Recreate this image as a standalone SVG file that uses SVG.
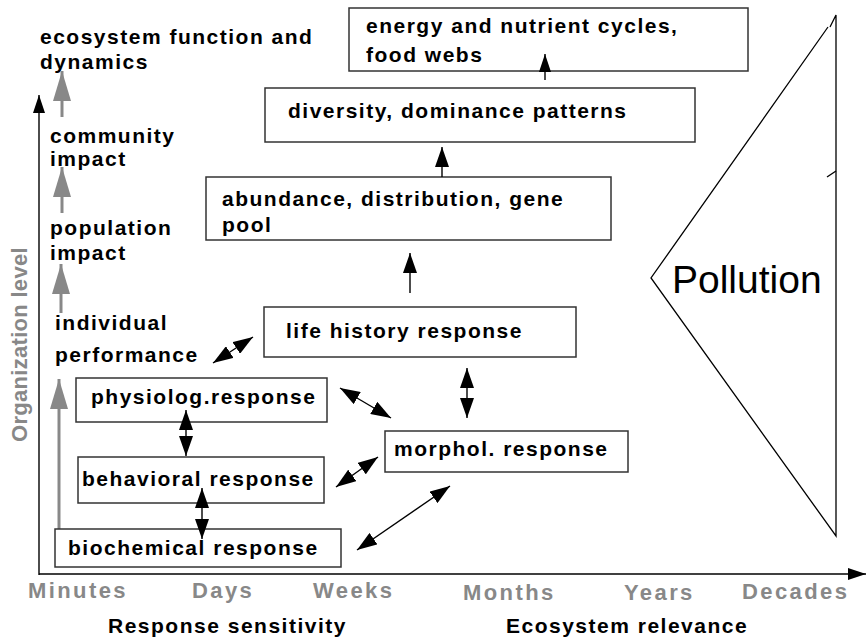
<svg xmlns="http://www.w3.org/2000/svg" width="866" height="638" viewBox="0 0 866 638">
<defs>
<style>
.t{font-family:"Liberation Sans",Arial,sans-serif;font-weight:bold;font-size:21px;letter-spacing:1.5px;fill:#000}
.g{font-family:"Liberation Sans",Arial,sans-serif;font-weight:bold;font-size:22px;letter-spacing:2.4px;fill:#888}
.box{fill:#fff;stroke:#333;stroke-width:1.5}
.ln{stroke:#000;stroke-width:1.4;fill:none}
.gl{stroke:#888;stroke-width:3;fill:none}
</style>
<marker id="ah" viewBox="0 0 20 14" refX="20" refY="7" markerWidth="20" markerHeight="14" markerUnits="userSpaceOnUse" orient="auto-start-reverse">
<path d="M0,0 L20,7 L0,14 Z" fill="#000"/>
</marker>
<marker id="ahs" viewBox="0 0 18 12" refX="18" refY="6" markerWidth="18" markerHeight="12" markerUnits="userSpaceOnUse" orient="auto-start-reverse">
<path d="M0,0 L18,6 L0,12 Z" fill="#000"/>
</marker>
<marker id="gh" viewBox="0 0 30 18" refX="30" refY="9" markerWidth="30" markerHeight="18" markerUnits="userSpaceOnUse" orient="auto">
<path d="M0,0 L30,9 L0,18 Z" fill="#888"/>
</marker>
</defs>
<rect width="866" height="638" fill="#fff"/>

<g id="axes">
<line class="ln" x1="39" y1="575" x2="39" y2="95" marker-end="url(#ahs)"/>
<line class="ln" x1="39" y1="574" x2="866" y2="574" marker-end="url(#ahs)"/>
<text class="g" transform="translate(27,442) rotate(-90)" style="letter-spacing:0.3px">Organization level</text>
<text class="g" x="28" y="598">Minutes</text>
<text class="g" x="192" y="598">Days</text>
<text class="g" x="313" y="598">Weeks</text>
<text class="g" x="463" y="600">Months</text>
<text class="g" x="624" y="600">Years</text>
<text class="g" x="742" y="599">Decades</text>
<text class="t" x="108" y="633">Response sensitivity</text>
<text class="t" x="506" y="633">Ecosystem relevance</text>
</g>

<g id="levels">
<text class="t" x="40" y="44">ecosystem function and</text>
<text class="t" x="40" y="69">dynamics</text>
<text class="t" x="50" y="143">community</text>
<text class="t" x="50" y="166">impact</text>
<text class="t" x="50" y="235">population</text>
<text class="t" x="50" y="260">impact</text>
<text class="t" x="55" y="330">individual</text>
<text class="t" x="55" y="362">performance</text>
</g>

<g id="gray-arrows">
<line class="gl" x1="62" y1="117" x2="62" y2="71" marker-end="url(#gh)"/>
<line class="gl" x1="62" y1="213" x2="62" y2="167" marker-end="url(#gh)"/>
<line class="gl" x1="61" y1="313" x2="61" y2="264" marker-end="url(#gh)"/>
<line class="gl" x1="59" y1="529" x2="59" y2="379" marker-end="url(#gh)"/>
</g>

<g id="pollution">
<path d="M828,27 L651,278 L836,536 L836,15 L830,27" fill="none" stroke="#000" stroke-width="1.3"/>
<line x1="827" y1="177" x2="836" y2="171" stroke="#000" stroke-width="1.3"/>
<text x="672" y="293" font-family="'Liberation Sans',Arial,sans-serif" font-size="39">Pollution</text>
</g>

<g id="n-energy">
<rect class="box" x="349" y="8" width="399" height="63"/>
<text class="t" x="366" y="33">energy and nutrient cycles,</text>
<text class="t" x="366" y="62">food webs</text>
</g>
<g id="n-diversity">
<rect class="box" x="265" y="88" width="430" height="54"/>
<text class="t" x="288" y="118">diversity, dominance patterns</text>
</g>
<g id="n-abundance">
<rect class="box" x="206" y="177" width="405" height="63"/>
<text class="t" x="222" y="206">abundance, distribution, gene</text>
<text class="t" x="222" y="232">pool</text>
</g>
<g id="n-lifehistory">
<rect class="box" x="264" y="307" width="312" height="50"/>
<text class="t" x="286" y="338">life history response</text>
</g>
<g id="n-physiolog">
<rect class="box" x="76" y="378" width="251" height="44"/>
<text class="t" x="91" y="404">physiolog.response</text>
</g>
<g id="n-morphol">
<rect class="box" x="385" y="431" width="243" height="41"/>
<text class="t" x="394" y="456">morphol. response</text>
</g>
<g id="n-behavioral">
<rect class="box" x="78" y="457" width="246" height="46"/>
<text class="t" x="82" y="486">behavioral response</text>
</g>
<g id="n-biochemical">
<rect class="box" x="55" y="529" width="286" height="38"/>
<text class="t" x="68" y="555">biochemical response</text>
</g>

<g id="connectors">
<line class="ln" x1="545" y1="80" x2="545" y2="54" marker-end="url(#ahs)"/>
<line class="ln" x1="442" y1="177" x2="442" y2="147" marker-end="url(#ah)"/>
<line class="ln" x1="410" y1="293" x2="410" y2="253" marker-end="url(#ah)"/>
<line class="ln" x1="213" y1="363" x2="253" y2="337" marker-start="url(#ah)" marker-end="url(#ah)"/>
<line class="ln" x1="340" y1="388" x2="391" y2="418" marker-start="url(#ah)" marker-end="url(#ah)"/>
<line class="ln" x1="467" y1="368" x2="467" y2="418" marker-start="url(#ah)" marker-end="url(#ah)"/>
<line class="ln" x1="186" y1="410" x2="186" y2="456" marker-start="url(#ah)" marker-end="url(#ah)"/>
<line class="ln" x1="202" y1="488" x2="202" y2="539" marker-start="url(#ah)" marker-end="url(#ah)"/>
<line class="ln" x1="336" y1="487" x2="378" y2="457" marker-start="url(#ah)" marker-end="url(#ah)"/>
<line class="ln" x1="357" y1="550" x2="450" y2="486" marker-start="url(#ah)" marker-end="url(#ah)"/>
</g>
</svg>
